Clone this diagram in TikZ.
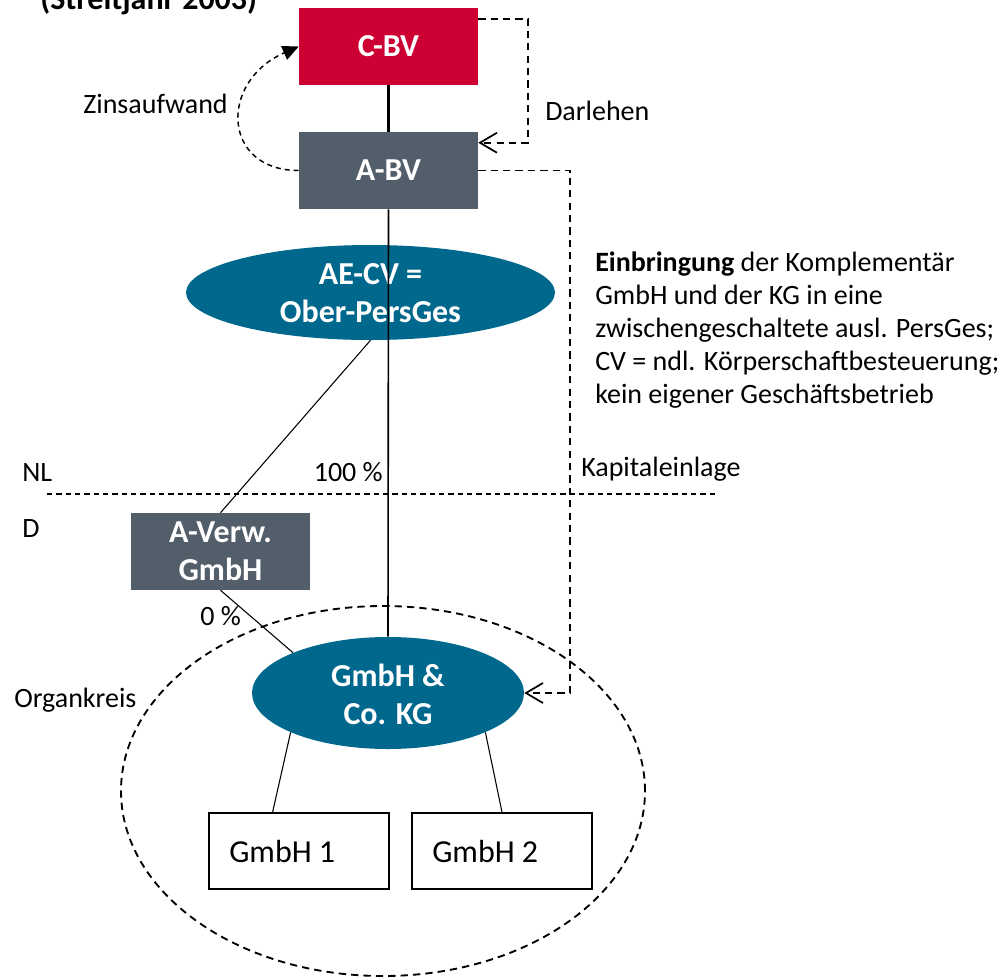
\documentclass[tikz,border=0pt]{standalone}
\usepackage{fontspec}
\setmainfont{Carlito}
\usetikzlibrary{shapes.geometric,arrows.meta,calc}
\definecolor{cred}{RGB}{204,0,51}
\definecolor{cgray}{RGB}{82,94,105}
\definecolor{cteal}{RGB}{0,104,140}
\begin{document}
\begin{tikzpicture}[x=0.75pt,y=-0.75pt,
  lbl/.style={inner sep=0pt, font=\fontsize{21}{25}\selectfont, anchor=base west},
  biglbl/.style={inner sep=0pt, font=\fontsize{24}{28}\selectfont, anchor=base west},
  box/.style={rectangle, inner sep=0pt, minimum width=134.25pt, minimum height=57.75pt},
  bt/.style={text=white, align=center, font=\fontsize{24}{28.5}\selectfont\bfseries},
  oval/.style={ellipse, fill=cteal, inner sep=0pt},
  whitebox/.style={draw, line width=1.4pt, rectangle, inner sep=0pt, minimum width=135pt, minimum height=57pt},
  dsh/.style={line width=1.4pt, dash pattern=on 5.5pt off 3.8pt},
  dshfine/.style={line width=1.1pt, dash pattern=on 3.8pt off 3pt},
  openarrow/.style={-{Straight Barb[length=12.75pt,width=15pt,line width=1.3pt]}},
  link/.style={line width=0.8pt}
]
\useasboundingbox (0,0) rectangle (1001,976);

% title (cut at top)
\node[inner sep=0pt, anchor=base west, font=\fontsize{24}{28}\selectfont\bfseries] (title) at (40,9) {(Streitjahr 2003)};

% Organkreis
\node[draw, dsh, ellipse, inner sep=0pt, minimum width=393pt, minimum height=277.5pt] (organ) at (383,791) {};

% boxes
\node[box, fill=cred, bt] (cbv) at (388.5,46.5) {C-BV};
\node[box, fill=cgray, bt] (abv) at (388.5,170.5) {A-BV};
\node[box, fill=cgray, bt] (averw) at (220.5,551.5) {A-Verw.\\GmbH};

% ellipses
\node[oval, minimum width=276.75pt, minimum height=71.25pt] (aecv) at (370.5,292.5) {};
\node[bt, inner sep=0pt] (aecvt) at (370.5,293) {AE-CV =\\Ober-PersGes};
\node[oval, minimum width=204pt, minimum height=84pt] (kg) at (388,693) {};
\node[bt, inner sep=0pt] (kgt) at (388,694) {GmbH \&\\Co. KG};

% subsidiaries
\node[whitebox] (g1) at (299,851) {};
\node[biglbl] (g1t) at (229,862) {GmbH 1};
\node[whitebox] (g2) at (502,851) {};
\node[biglbl] (g2t) at (432,862) {GmbH 2};

% border NL / D
\coordinate (bl) at (47,494);
\coordinate (br) at (718,494);
\draw[line width=0.9pt, dash pattern=on 4pt off 3pt] (bl) -- (br);

% labels
\node[lbl] (zins) at (83,113) {Zinsaufwand};
\node[lbl] (darl) at (545,120) {Darlehen};
\node[lbl] (nl) at (22,481) {NL};
\node[lbl, anchor=base east] (p100) at (383,481) {100 \%};
\node[lbl] (dl) at (22,537) {D};
\node[lbl] (p0) at (200,625) {0 \%};
\node[lbl] (ok) at (14,707) {Organkreis};
\node[lbl] (t1) at (595,271) {\textbf{Einbringung} der Komplementär};
\node[lbl] (t2) at (595,304) {GmbH und der KG in eine};
\node[lbl] (t3) at (595,337) {zwischengeschaltete ausl. PersGes;};
\node[lbl] (t4) at (595,370) {CV = ndl. Körperschaftbesteuerung;};
\node[lbl] (t5) at (595,403) {kein eigener Geschäftsbetrieb};
\node[lbl] (kap) at (581,476) {Kapitaleinlage};

% connectors
\draw[line width=1.6pt] (cbv.south) -- (abv.north);
\draw[line width=1.2pt] (abv.south) -- (kg.north);
\draw[link] (aecv.south) -- (averw.north);
\draw[link] (averw.south) -- (kg.157);
\draw[link] (kg.202) -- ($(g1.north west)!0.355!(g1.north east)$);
\draw[link] (kg.-22) -- (g2.north);

\draw[dsh, openarrow] ($(cbv.north east)+(0,11)$) -- ++(50,0) |- ($(abv.north east)+(0,11)$);
\draw[dsh, openarrow] (abv.east) -- ++(92,0) |- (kg.east);
\draw[dshfine, -{Triangle[length=12pt,width=11pt]}] (abv.west) .. controls +(-77,0) and +(-80,35) .. (cbv.west);
\end{tikzpicture}
\end{document}
